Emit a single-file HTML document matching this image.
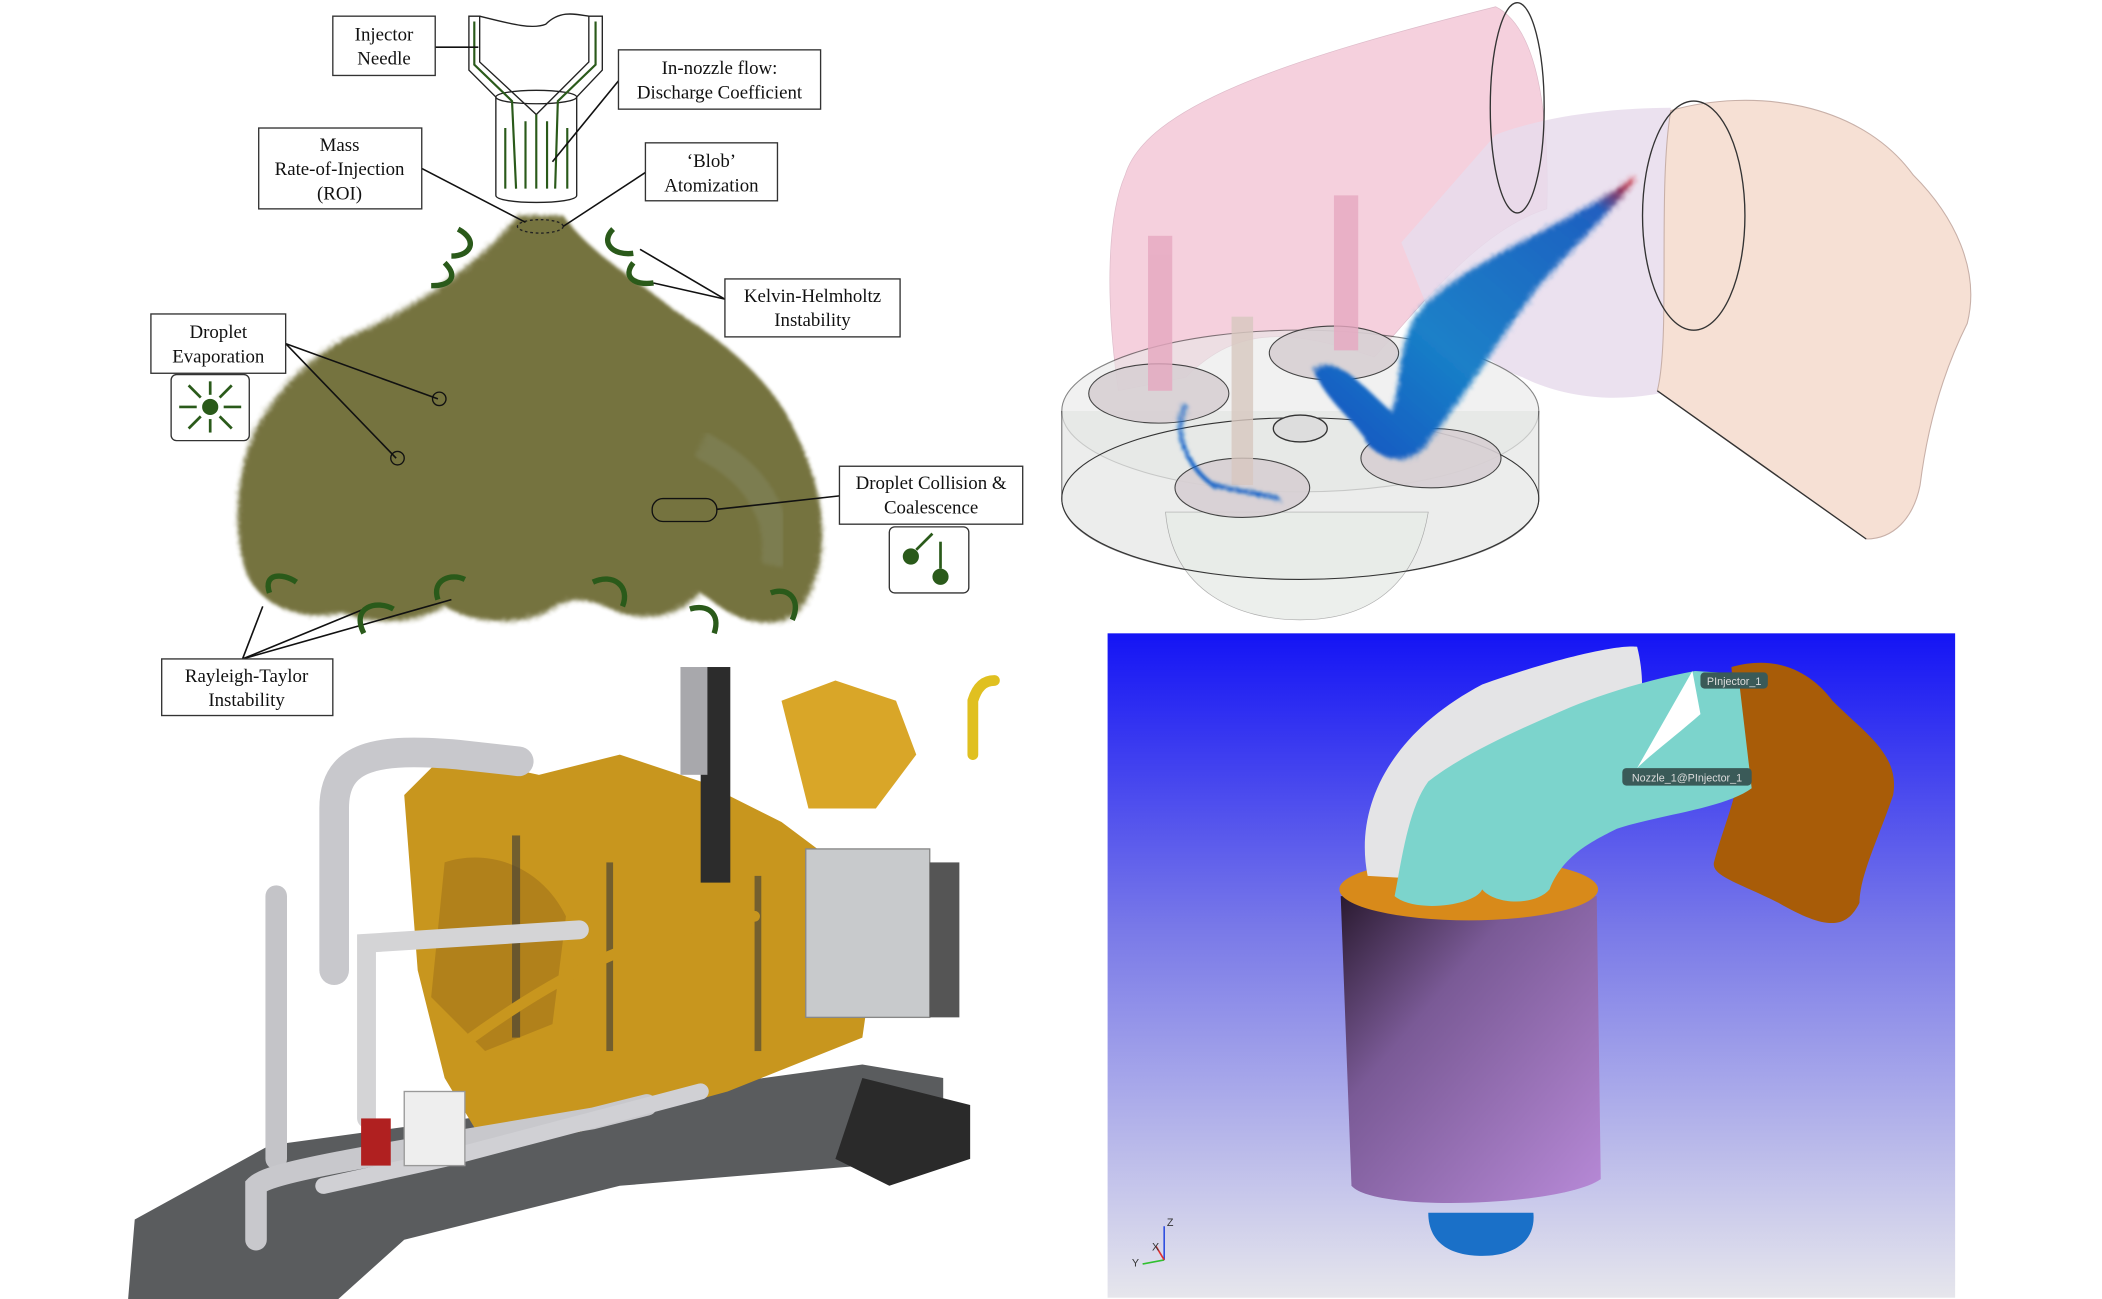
<!DOCTYPE html>
<html><head><meta charset="utf-8"><style>
html,body{margin:0;padding:0;background:#fff;}
svg{display:block;}
.lbl{font-family:"Liberation Serif",serif;font-size:14px;fill:#111;text-anchor:middle;}
.box{fill:#fff;stroke:#333;stroke-width:1;}
</style></head><body>
<svg width="2102" height="1299" viewBox="0 0 1560 964" preserveAspectRatio="none">
<defs>
<filter id="fz" x="-10%" y="-10%" width="120%" height="120%"><feTurbulence type="fractalNoise" baseFrequency="0.9" numOctaves="2" result="n"/><feDisplacementMap in="SourceGraphic" in2="n" scale="10"/><feGaussianBlur stdDeviation="1.2"/></filter>
<linearGradient id="bg" x1="0" y1="0" x2="0" y2="1"><stop offset="0" stop-color="#1414f5"/><stop offset="0.45" stop-color="#7a7ae8"/><stop offset="1" stop-color="#e6e6ec"/></linearGradient>
<linearGradient id="cyl" x1="0" y1="0" x2="1" y2="1"><stop offset="0" stop-color="#2a1a30"/><stop offset="0.35" stop-color="#7a5a96"/><stop offset="1" stop-color="#b88ad8"/></linearGradient>
<linearGradient id="spr" x1="1" y1="0" x2="0" y2="1"><stop offset="0" stop-color="#e01010"/><stop offset="0.12" stop-color="#2060c0"/><stop offset="0.6" stop-color="#1a80c8"/><stop offset="1" stop-color="#1050c0"/></linearGradient>
</defs>

<!-- ===== Spray diagram ===== -->
<g>
<path filter="url(#fz)" fill="#6e6c34" opacity="0.95"
 d="M385,160 L418,160 C440,190 470,205 500,230 C540,255 575,285 590,320 C605,350 615,385 608,420 C600,450 590,462 570,462 C545,462 535,450 520,440 C505,455 485,462 460,455 C440,445 425,440 405,455 C380,465 350,462 330,450 C310,462 280,465 255,455 C230,460 200,455 185,430 C172,400 175,360 185,330 C195,300 230,260 270,245 C310,225 345,205 385,160 Z"/>
<path d="M520,330 C560,350 580,380 575,420" fill="none" stroke="#8a9070" stroke-width="20" opacity="0.35" filter="url(#fz)"/>
<g fill="#fff" stroke="#222" stroke-width="1">
<path d="M348,12 L356,12 L356,46 L398,85 L437,46 L437,12 L447,12 L447,52 L428,72 L428,145 C428,152 368,152 368,145 L368,72 L348,52 Z"/>
<path d="M356,12 C380,18 395,22 405,18 C415,8 425,10 437,12" fill="none"/>
<ellipse cx="398" cy="72" rx="30" ry="5" fill="none"/>
</g>
<g stroke="#2a5a1a" stroke-width="1.6" fill="none">
<path d="M352,16 L352,48 L380,75 L383,140"/><path d="M442,16 L442,48 L414,75 L412,140"/>
<line x1="398" y1="85" x2="398" y2="140"/><line x1="390" y1="90" x2="390" y2="140"/><line x1="406" y1="90" x2="406" y2="140"/>
<path d="M375,95 L375,140"/><path d="M421,95 L421,140"/>
</g>
<ellipse cx="401" cy="168" rx="17" ry="5" fill="none" stroke="#222" stroke-dasharray="2,2"/>
<g stroke="#111" stroke-width="1.2" fill="none">
<line x1="323" y1="35" x2="355" y2="35"/><line x1="459" y1="60" x2="410" y2="120"/>
<line x1="313" y1="125" x2="390" y2="165"/><line x1="479" y1="128" x2="418" y2="168"/>
<line x1="538" y1="222" x2="475" y2="185"/><line x1="538" y1="222" x2="485" y2="210"/>
<line x1="212" y1="255" x2="325" y2="296"/><line x1="212" y1="255" x2="294" y2="340"/>
<line x1="623" y1="368" x2="532" y2="378"/>
<line x1="180" y1="489" x2="195" y2="450"/><line x1="180" y1="489" x2="275" y2="450"/><line x1="180" y1="489" x2="335" y2="445"/>
</g>
<circle cx="326" cy="296" r="5" fill="none" stroke="#111"/><circle cx="295" cy="340" r="5" fill="none" stroke="#111"/>
<rect x="484" y="370" width="48" height="17" rx="8" fill="none" stroke="#111"/>
<g stroke="#2a5a1a" stroke-width="4" fill="none">
<path d="M340,170 C355,178 350,190 335,190"/><path d="M330,195 C340,205 335,212 320,212"/>
<path d="M455,170 C445,180 455,190 470,188"/><path d="M470,195 C462,205 470,212 485,210"/>
<path d="M200,440 C195,425 210,425 220,432"/><path d="M270,470 C260,450 280,445 292,452"/>
<path d="M325,445 C320,430 335,425 345,430"/><path d="M462,450 C468,435 455,425 440,432"/>
<path d="M530,470 C535,455 525,448 512,452"/><path d="M588,460 C595,445 585,435 572,440"/>
</g>
<g><rect class="box" x="247" y="12" width="76" height="44"/><text class="lbl" x="285" y="30">Injector</text><text class="lbl" x="285" y="48">Needle</text></g>
<g><rect class="box" x="459" y="37" width="150" height="44"/><text class="lbl" x="534" y="55">In-nozzle flow:</text><text class="lbl" x="534" y="73">Discharge Coefficient</text></g>
<g><rect class="box" x="192" y="95" width="121" height="60"/><text class="lbl" x="252" y="112">Mass</text><text class="lbl" x="252" y="130">Rate-of-Injection</text><text class="lbl" x="252" y="148">(ROI)</text></g>
<g><rect class="box" x="479" y="106" width="98" height="43"/><text class="lbl" x="528" y="124">‘Blob’</text><text class="lbl" x="528" y="142">Atomization</text></g>
<g><rect class="box" x="538" y="207" width="130" height="43"/><text class="lbl" x="603" y="224">Kelvin-Helmholtz</text><text class="lbl" x="603" y="242">Instability</text></g>
<g><rect class="box" x="112" y="233" width="100" height="44"/><text class="lbl" x="162" y="251">Droplet</text><text class="lbl" x="162" y="269">Evaporation</text></g>
<g><rect class="box" x="127" y="278" width="58" height="49" rx="4"/><circle cx="156" cy="302" r="6" fill="#2a5a1a"/>
<g stroke="#2a5a1a" stroke-width="2"><line x1="156" y1="293" x2="156" y2="283"/><line x1="156" y1="311" x2="156" y2="321"/><line x1="146" y1="302" x2="133" y2="302"/><line x1="166" y1="302" x2="179" y2="302"/><line x1="149" y1="295" x2="140" y2="286"/><line x1="163" y1="295" x2="172" y2="286"/><line x1="149" y1="309" x2="140" y2="318"/><line x1="163" y1="309" x2="172" y2="318"/></g></g>
<g><rect class="box" x="623" y="346" width="136" height="43"/><text class="lbl" x="691" y="363">Droplet Collision &amp;</text><text class="lbl" x="691" y="381">Coalescence</text></g>
<g><rect class="box" x="660" y="391" width="59" height="49" rx="4"/><circle cx="676" cy="413" r="6" fill="#2a5a1a"/><circle cx="698" cy="428" r="6" fill="#2a5a1a"/><g stroke="#2a5a1a" stroke-width="2"><line x1="680" y1="408" x2="692" y2="396"/><line x1="698" y1="422" x2="698" y2="402"/></g></g>
<g><rect class="box" x="120" y="489" width="127" height="42"/><text class="lbl" x="183" y="506">Rayleigh-Taylor</text><text class="lbl" x="183" y="524">Instability</text></g>
</g>

<!-- ===== CFD render top-right ===== -->
<g>
<path fill="#f4c8d8" opacity="0.85" stroke="#d8b0c0" stroke-width="0.5"
 d="M835,130 C850,80 950,45 1110,5 C1140,20 1150,80 1148,155 C1100,170 1060,220 1020,265 C960,245 920,240 880,280 L830,290 C820,220 822,160 835,130 Z"/>
<path fill="#e8dcec" opacity="0.85" d="M1110,100 C1150,85 1200,80 1240,80 L1240,290 C1200,300 1160,295 1130,280 C1100,270 1080,240 1060,230 L1040,180 Z"/>
<path fill="#f6e0d4" stroke="#c8b0a8" stroke-width="0.8"
 d="M1240,82 C1300,65 1380,75 1420,130 C1450,160 1470,200 1460,240 C1440,280 1430,320 1425,360 C1420,385 1405,400 1385,400 L1300,340 L1230,290 C1240,250 1230,140 1240,82 Z"/>
<ellipse cx="1126" cy="80" rx="20" ry="78" fill="none" stroke="#333" stroke-width="1"/>
<ellipse cx="1257" cy="160" rx="38" ry="85" fill="none" stroke="#333" stroke-width="1"/>
<line x1="1230" y1="290" x2="1385" y2="400" stroke="#333"/>
<ellipse cx="965" cy="305" rx="177" ry="60" fill="#e8e8e8" opacity="0.6" stroke="#333" stroke-width="0.8"/>
<path d="M788,305 L788,370 C788,405 870,430 965,430 C1060,430 1142,405 1142,370 L1142,305" fill="#e4e6e4" opacity="0.7" stroke="#333" stroke-width="0.8"/>
<path d="M865,380 C870,440 920,460 965,460 C1010,460 1050,440 1060,380 Z" fill="#e8ece8" opacity="0.8" stroke="#999" stroke-width="0.5"/>
<ellipse cx="965" cy="370" rx="177" ry="60" fill="none" stroke="#333" stroke-width="0.8"/>
<g fill="#d8d0d4" stroke="#333" stroke-width="0.8" opacity="0.9">
<ellipse cx="860" cy="292" rx="52" ry="22"/><ellipse cx="990" cy="262" rx="48" ry="20"/><ellipse cx="922" cy="362" rx="50" ry="22"/><ellipse cx="1062" cy="340" rx="52" ry="22"/></g>
<ellipse cx="965" cy="318" rx="20" ry="10" fill="#ddd" stroke="#333"/>
<g fill="#e6a8c0" opacity="0.8"><rect x="852" y="175" width="18" height="115"/><rect x="990" y="145" width="18" height="115"/><rect x="914" y="235" width="16" height="125" fill="#d8c8c0"/></g>
<path fill="url(#spr)" filter="url(#fz)"
 d="M1215,130 C1160,170 1080,195 1050,235 C1035,265 1040,295 1032,305 C1015,290 990,260 975,275 C985,300 1010,315 1015,330 C1030,345 1050,345 1062,325 C1090,290 1110,255 1140,215 C1170,180 1200,155 1215,130 Z"/>
<path d="M880,300 C870,320 880,345 900,360 L950,370" stroke="#1060c8" stroke-width="3" fill="none" filter="url(#fz)"/>
</g>

<!-- ===== Engine photo ===== -->
<g>
<path fill="#5a5c5e" d="M95,965 L100,905 L200,850 L640,790 L700,800 L700,860 L460,880 L300,920 L250,965 Z"/>
<path fill="#2a2a2a" d="M640,800 L720,820 L720,860 L660,880 L620,860 Z"/>
<path fill="#c8961e" d="M300,590 L330,560 L400,575 L460,560 L520,580 L580,610 L620,640 L650,700 L640,770 L540,810 L430,840 L360,850 L330,800 L310,720 Z"/>
<path fill="#d9a628" d="M580,520 L620,505 L665,520 L680,560 L650,600 L600,600 Z"/>
<path fill="#a6781a" d="M330,640 C360,630 400,640 420,680 L410,760 L360,780 L320,740 Z" opacity="0.7"/>
<g fill="#3a3a3a" opacity="0.6"><rect x="380" y="620" width="6" height="150"/><rect x="450" y="640" width="5" height="140"/><rect x="560" y="650" width="5" height="130"/></g>
<rect x="520" y="495" width="22" height="160" fill="#2c2c2c"/>
<rect x="505" y="495" width="20" height="80" fill="#a8a8ac"/>
<rect x="598" y="630" width="92" height="125" fill="#c8cacc" stroke="#888"/>
<rect x="690" y="640" width="22" height="115" fill="#555"/>
<g fill="none" stroke-linecap="round">
<path d="M248,720 L248,600 C248,560 280,555 340,560 L385,565" stroke="#c8c8cc" stroke-width="22"/>
<path d="M205,860 L205,665" stroke="#c4c4c8" stroke-width="16"/>
<path d="M272,830 L272,700 L430,690" stroke="#d4d4d6" stroke-width="14"/>
<path d="M190,920 L190,880 C200,870 260,860 440,830 L480,820" stroke="#c8c8cc" stroke-width="16"/>
<path d="M240,880 L330,860 L520,810" stroke="#d0d0d4" stroke-width="12"/>
<path d="M722,560 L722,520 C725,510 730,505 738,505" stroke="#e0c020" stroke-width="8"/>
<path d="M350,770 C420,720 480,690 560,680" stroke="#c8961e" stroke-width="8"/>
</g>
<rect x="300" y="810" width="45" height="55" fill="#eee" stroke="#999"/>
<rect x="268" y="830" width="22" height="35" fill="#b02020"/>
</g>

<!-- ===== Geometry render bottom-right ===== -->
<g>
<rect x="822" y="470" width="629" height="493" fill="url(#bg)"/>
<path fill="url(#cyl)" d="M995,665 L1185,665 L1188,875 C1160,895 1020,900 1003,880 Z"/>
<path fill="#1a70c8" d="M1060,900 C1060,925 1080,932 1100,932 C1125,932 1140,920 1138,900 Z"/>
<ellipse cx="1090" cy="660" rx="96" ry="23" fill="#d88a1a"/>
<path fill="#e4e4e6" d="M1015,650 C1005,600 1030,545 1100,508 C1150,490 1200,478 1215,480 C1225,520 1215,560 1180,590 C1130,620 1070,640 1050,652 Z"/>
<path fill="#a85c08" d="M1285,495 C1320,485 1345,500 1360,520 C1385,545 1410,560 1405,590 C1395,620 1380,650 1380,670 C1370,690 1355,690 1320,670 C1290,655 1270,650 1272,640 C1280,610 1290,590 1290,570 Z"/>
<path fill="#7cd4cc" d="M1035,665 C1040,640 1045,600 1060,580 C1085,560 1130,540 1165,525 C1190,515 1220,505 1258,498 L1290,500 L1300,585 C1280,600 1230,605 1200,615 C1180,625 1160,635 1150,660 C1140,672 1110,672 1100,660 C1095,672 1050,678 1035,665 Z"/>
<path fill="#ffffff" d="M1256,498 L1215,570 C1225,560 1245,545 1262,530 Z"/>
<g><rect x="1262" y="499" width="50" height="12" rx="3" fill="#3a5a58"/><text x="1287" y="508.5" font-family="Liberation Sans, sans-serif" font-size="8" fill="#ddd" text-anchor="middle">PInjector_1</text></g>
<g><rect x="1204" y="570" width="96" height="13" rx="3" fill="#3a5a58"/><text x="1252" y="580" font-family="Liberation Sans, sans-serif" font-size="8" fill="#ddd" text-anchor="middle">Nozzle_1@PInjector_1</text></g>
<g stroke-width="1.2"><line x1="864" y1="935" x2="864" y2="910" stroke="#3050e0"/><line x1="864" y1="935" x2="848" y2="938" stroke="#30c030"/><line x1="864" y1="935" x2="858" y2="925" stroke="#e03030"/>
<text x="866" y="910" font-size="8" font-family="Liberation Sans, sans-serif" fill="#333">Z</text><text x="840" y="940" font-size="8" font-family="Liberation Sans, sans-serif" fill="#333">Y</text><text x="855" y="928" font-size="8" font-family="Liberation Sans, sans-serif" fill="#333">X</text></g>
</g>
</svg>
</body></html>
